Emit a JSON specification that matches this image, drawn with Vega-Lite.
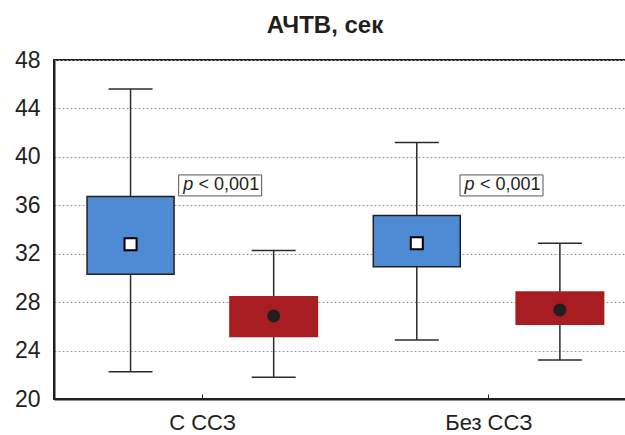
{
  "$schema": "https://vega.github.io/schema/vega-lite/v6.json",
  "width": 572,
  "height": 339,
  "autosize": {"type": "none"},
  "padding": {"left": 54, "top": 60, "right": 0, "bottom": 36},
  "background": "white",
  "config": {
    "view": {"stroke": "#231f20", "strokeWidth": 2, "fill": null},
    "font": "Liberation Sans",
    "axis": {"labelOverlap": false, "labelFlush": false, "title": null, "labelFont": "Liberation Sans", "labelColor": "#231f20", "domainColor": "#231f20", "domainWidth": 2},
    "axisY": {"grid": true, "gridColor": "#999999", "gridOpacity": 1, "gridDash": [2, 2], "gridWidth": 1, "ticks": false, "labelFontSize": 23, "labelPadding": 14, "labelOverlap": false, "labelSeparation": -8},
    "axisX": {"grid": false, "ticks": true, "tickSize": -5, "tickColor": "#231f20", "tickWidth": 1, "labelFontSize": 22, "labelPadding": 18}
  },
  "title": {
    "text": "АЧТВ, сек",
    "font": "Liberation Sans",
    "fontSize": 24,
    "fontWeight": "bold",
    "color": "#231f20",
    "anchor": "middle",
    "frame": "group",
    "baseline": "alphabetic",
    "dx": -15,
    "offset": -8
  },
  "data": {
    "values": [
      {"group": "С ССЗ", "series": "A", "x": 1, "lo": 22.26, "q1": 30.31, "mid": 32.79, "q3": 36.72, "hi": 45.6},
      {"group": "С ССЗ", "series": "B", "x": 2, "lo": 21.8, "q1": 25.1, "mid": 26.86, "q3": 28.51, "hi": 32.26},
      {"group": "Без ССЗ", "series": "A", "x": 3, "lo": 24.88, "q1": 30.93, "mid": 32.87, "q3": 35.15, "hi": 41.18},
      {"group": "Без ССЗ", "series": "B", "x": 4, "lo": 23.22, "q1": 26.12, "mid": 27.36, "q3": 28.9, "hi": 32.87}
    ]
  },
  "encoding": {
    "x": {
      "field": "x",
      "type": "quantitative",
      "scale": {"domain": [0.5, 4.427], "nice": false, "zero": false},
      "axis": {
        "title": null,
        "values": [1.5, 3.5],
        "labelExpr": "datum.value == 1.5 ? 'С ССЗ' : 'Без ССЗ'"
      }
    }
  },
  "layer": [
    {
      "mark": {"type": "rule", "color": "#2b2b2b", "strokeWidth": 1.5},
      "encoding": {
        "y": {"field": "lo", "type": "quantitative", "scale": {"domain": [20, 48], "nice": false, "zero": false}, "axis": {"title": null, "values": [20, 22, 24, 26, 28, 30, 32, 34, 36, 38, 40, 42, 44, 46, 48], "labelOverlap": false, "labelSeparation": -8, "grid": true}},
        "y2": {"field": "hi"}
      }
    },
    {
      "mark": {"type": "tick", "orient": "horizontal", "size": 44, "thickness": 1.5, "color": "#2b2b2b", "opacity": 1},
      "encoding": {
        "y": {"field": "lo", "type": "quantitative"}
      }
    },
    {
      "mark": {"type": "tick", "orient": "horizontal", "size": 44, "thickness": 1.5, "color": "#2b2b2b", "opacity": 1},
      "encoding": {
        "y": {"field": "hi", "type": "quantitative"}
      }
    },
    {
      "transform": [{"filter": "datum.series == 'A'"}],
      "mark": {"type": "bar", "width": 87, "fill": "#4f8ad4", "stroke": "#231f20", "strokeWidth": 1.5},
      "encoding": {
        "y": {"field": "q1", "type": "quantitative"},
        "y2": {"field": "q3"}
      }
    },
    {
      "transform": [{"filter": "datum.series == 'B'"}],
      "mark": {"type": "bar", "width": 89, "fill": "#a81d22"},
      "encoding": {
        "y": {"field": "q1", "type": "quantitative"},
        "y2": {"field": "q3"}
      }
    },
    {
      "transform": [{"filter": "datum.series == 'A'"}],
      "mark": {"type": "point", "shape": "square", "size": 144, "filled": true, "fill": "white", "stroke": "#000000", "strokeWidth": 2, "opacity": 1},
      "encoding": {
        "y": {"field": "mid", "type": "quantitative"}
      }
    },
    {
      "transform": [{"filter": "datum.series == 'B'"}],
      "mark": {"type": "point", "shape": "circle", "size": 169, "filled": true, "fill": "#231f20", "opacity": 1},
      "encoding": {
        "y": {"field": "mid", "type": "quantitative"}
      }
    },
    {
      "data": {"values": [{"x": 1.626, "ay": 37.64}, {"x": 3.592, "ay": 37.64}]},
      "layer": [
        {
          "mark": {"type": "point", "shape": "M-1,-0.253L1,-0.253L1,0.253L-1,0.253Z", "size": 6889, "filled": true, "fill": "white", "stroke": "#555555", "strokeWidth": 1, "opacity": 1},
          "encoding": {
            "y": {"field": "ay", "type": "quantitative"}
          }
        },
        {
          "mark": {"type": "text", "text": "p", "font": "Liberation Sans", "fontStyle": "italic", "fontSize": 18, "align": "left", "baseline": "middle", "dx": -37, "color": "#231f20"},
          "encoding": {
            "y": {"field": "ay", "type": "quantitative"}
          }
        },
        {
          "mark": {"type": "text", "text": "< 0,001", "font": "Liberation Sans", "fontSize": 18, "align": "right", "baseline": "middle", "dx": 39, "color": "#231f20"},
          "encoding": {
            "y": {"field": "ay", "type": "quantitative"}
          }
        }
      ]
    }
  ]
}
